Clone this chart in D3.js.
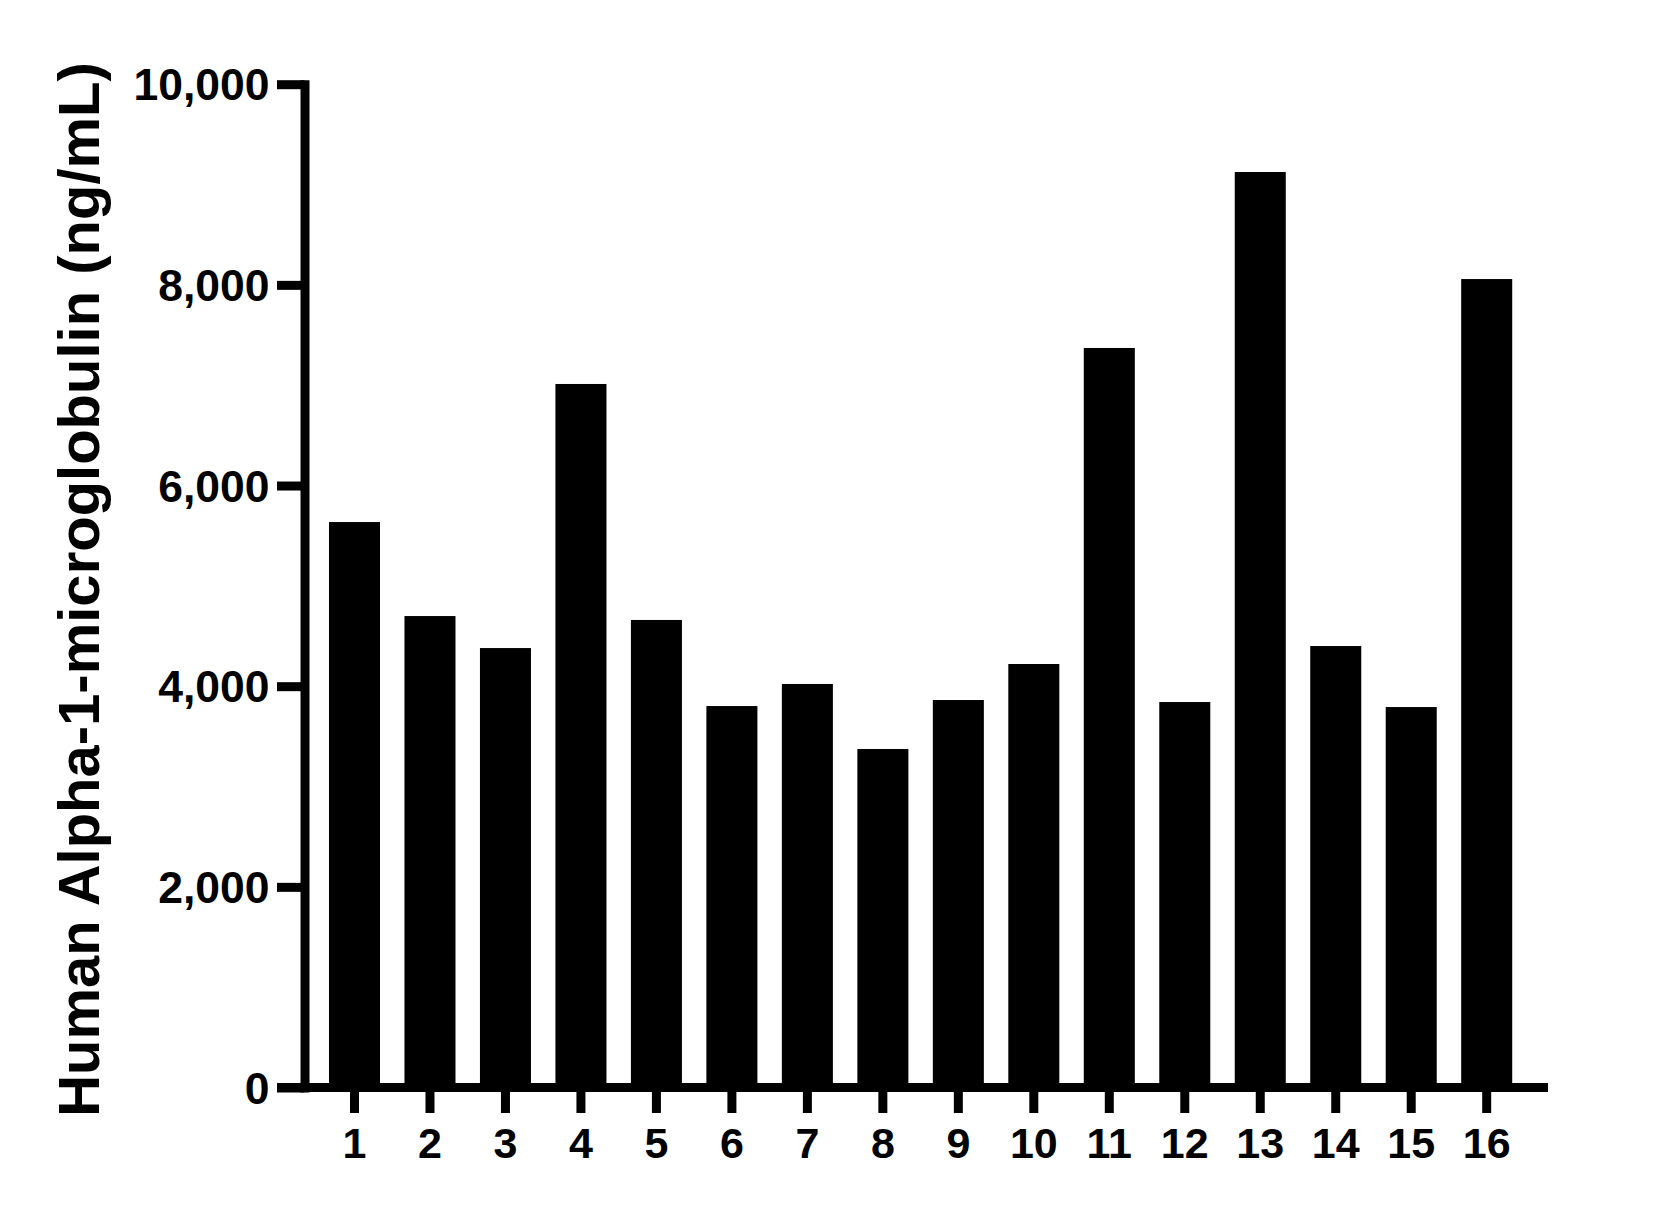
<!DOCTYPE html>
<html>
<head>
<meta charset="utf-8">
<script src="https://cdn.jsdelivr.net/npm/d3@7"></script>
<style>
  html, body { margin: 0; padding: 0; background: #fff; }
  svg { display: block; }
  text { font-family: "Liberation Sans", Arial, sans-serif; font-weight: bold; fill: #000; }
</style>
</head>
<body>
<svg id="chart" width="1678" height="1209"></svg>
<script>
const categories = ["1","2","3","4","5","6","7","8","9","10","11","12","13","14","15","16"];
const values = [5636, 4699, 4380, 7012, 4660, 3802, 4022, 3374, 3862, 4221, 7371, 3842, 9125, 4400, 3792, 8058];
const yTickValues = [0, 2000, 4000, 6000, 8000, 10000];
const yTitle = "Human Alpha-1-microglobulin (ng/mL)";

const svg = d3.select("#chart");
const lw = 9;
const y0px = 1087.5, yTopPx = 84.2;
const axisX = 304.5;

const y = d3.scaleLinear().domain([0, 10000]).range([y0px, yTopPx]);
const step = (1486.7 - 354.5) / 15;
const x = d3.scaleBand().domain(categories)
  .range([354.5 - step / 2, 1486.7 + step / 2])
  .paddingInner(0.324).paddingOuter(0.162);

// bars
svg.append("g").selectAll("rect").data(values).join("rect")
  .attr("x", (d, i) => x(categories[i]))
  .attr("width", x.bandwidth())
  .attr("y", d => y(d))
  .attr("height", d => y0px - y(d))
  .attr("fill", "#000");

// y axis
const yAxis = d3.axisLeft(y).tickValues(yTickValues).tickSize(27.5).tickSizeOuter(0)
  .tickFormat(d3.format(","));
const gy = svg.append("g").attr("transform", `translate(${axisX},0)`).call(yAxis);
gy.select(".domain").attr("stroke", "#000").attr("stroke-width", lw).attr("stroke-linecap", "square");
gy.selectAll(".tick line").attr("stroke", "#000").attr("stroke-width", lw);
gy.selectAll(".tick text")
  .attr("x", -35)
  .attr("dy", null)
  .attr("dominant-baseline", "central")
  .style("font-size", "44.5px")
  .style("font-family", "'Liberation Sans', Arial, sans-serif")
  .style("font-weight", "bold")
  .attr("fill", "#000");
gy.attr("font-size", null).attr("font-family", null);

// x axis line
svg.append("line")
  .attr("x1", 277).attr("x2", 1548)
  .attr("y1", y0px).attr("y2", y0px)
  .attr("stroke", "#000").attr("stroke-width", lw);

// x axis ticks and labels
const xAxis = d3.axisBottom(x).tickSize(25.5).tickSizeOuter(0).tickPadding(14);
const gx = svg.append("g").attr("transform", `translate(0,${y0px})`).call(xAxis);
gx.select(".domain").remove();
gx.selectAll(".tick line").attr("stroke", "#000").attr("stroke-width", lw);
gx.selectAll(".tick text")
  .attr("y", 70.5).attr("dy", null)
  .style("font-size", "43px")
  .style("font-family", "'Liberation Sans', Arial, sans-serif")
  .style("font-weight", "bold")
  .attr("fill", "#000");
gx.attr("font-size", null).attr("font-family", null);

// y title
svg.append("text")
  .attr("transform", "translate(98.5,589.5) rotate(-90)")
  .attr("text-anchor", "middle")
  .style("font-size", "58px")
  .text(yTitle);
</script>
</body>
</html>
